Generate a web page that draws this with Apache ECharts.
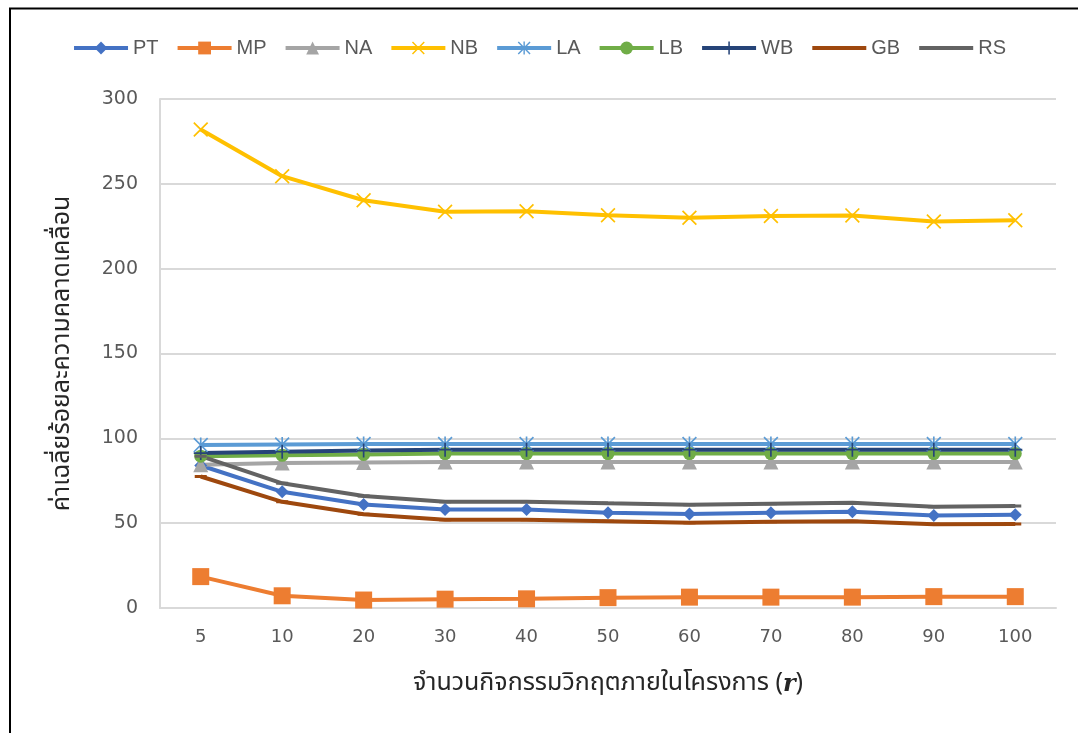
<!DOCTYPE html>
<html>
<head>
<meta charset="utf-8">
<script src="https://cdn.jsdelivr.net/npm/echarts@6/dist/echarts.min.js"></script>
<style>
  html, body { margin: 0; padding: 0; background: #ffffff; }
  #chart { width: 1078px; height: 733px; }
</style>
</head>
<body>
<div id="chart"></div>
<script>
// Number of critical activities in the project (r)
const categories = ['5', '10', '20', '30', '40', '50', '60', '70', '80', '90', '100'];

// Mean percentage error for each method
const PT = [84, 68.5, 61, 58, 58, 56.2, 55.4, 56.2, 56.8, 54.5, 55];
const MP = [18.5, 7.2, 4.7, 5.2, 5.4, 6.1, 6.4, 6.4, 6.4, 6.7, 6.7];
const NA = [84.5, 85.5, 85.8, 86, 86, 86, 86, 86, 86, 86, 86];
const NB = [282, 254.5, 240.3, 233.5, 233.8, 231.5, 230, 231, 231.4, 227.8, 228.5];
const LA = [96, 96.4, 96.6, 96.6, 96.6, 96.6, 96.6, 96.6, 96.6, 96.6, 96.6];
const LB = [89.5, 90, 90.5, 91, 91, 91, 91, 91, 91, 91, 91];
const WB = [91.3, 92.1, 92.8, 93.3, 93.3, 93.3, 93.3, 93.3, 93.3, 93.3, 93.3];
const GB = [77.5, 62.6, 55.3, 52, 52, 51.2, 50.3, 50.9, 51.2, 49.3, 49.5];
const RS = [89.5, 73.5, 66, 62.6, 62.6, 61.7, 60.9, 61.5, 62, 59.7, 60.1];

const yTicks = { min: 0, max: 300, interval: 50 };

// Marker shapes (20x20 boxes)
const X_MARK = 'path://M0,1.6L1.6,0L20,18.4L18.4,20Z M18.4,0L20,1.6L1.6,20L0,18.4Z';
const STAR_MARK = 'path://M0,1.6L1.6,0L20,18.4L18.4,20Z M18.4,0L20,1.6L1.6,20L0,18.4Z M8.9,0L11.1,0L11.1,20L8.9,20Z';
const PLUS_MARK = 'path://M8.8,0L11.2,0L11.2,8.8L20,8.8L20,11.2L11.2,11.2L11.2,20L8.8,20L8.8,11.2L0,11.2L0,8.8L8.8,8.8Z';
// short horizontal bar; the tiny corner segments keep the box square
const DASH_MARK = 'path://M0,0L0.01,0L0.01,0.01Z M20,20L19.99,20L19.99,19.99Z M0,7.5L20,7.5L20,12.5L0,12.5Z';

const seriesDefs = [
  { name: 'PT', data: PT, color: '#4472C4', symbol: 'diamond', size: 13 },
  { name: 'MP', data: MP, color: '#ED7D31', symbol: 'rect', size: 17 },
  { name: 'NA', data: NA, color: '#A5A5A5', symbol: 'triangle', size: 15 },
  { name: 'NB', data: NB, color: '#FFC000', symbol: X_MARK, size: 15 },
  { name: 'LA', data: LA, color: '#5B9BD5', symbol: STAR_MARK, size: 15 },
  { name: 'LB', data: LB, color: '#70AD47', symbol: 'circle', size: 13 },
  { name: 'WB', data: WB, color: '#264478', symbol: PLUS_MARK, size: 14 },
  { name: 'GB', data: GB, color: '#9E480E', symbol: DASH_MARK, size: 12 },
  { name: 'RS', data: RS, color: '#636363', symbol: DASH_MARK, size: 12 }
];

const textColor = '#595959';
const gridColor = '#D9D9D9';
const thaiFont = 'Noto Sans Thai, Tahoma, sans-serif';

const chart = echarts.init(document.getElementById('chart'), null, { renderer: 'canvas' });

chart.setOption({
  animation: false,
  backgroundColor: '#ffffff',
  graphic: [{
    type: 'rect',
    shape: { x: 10, y: 8.5, width: 1200, height: 900 },
    style: { fill: 'none', stroke: '#000000', lineWidth: 2 },
    silent: true
  }],
  legend: {
    top: 33,
    left: 'center',
    itemWidth: 54,
    itemHeight: 16,
    itemGap: 17,
    lineStyle: { width: 4 },
    textStyle: { color: textColor, fontSize: 20, fontFamily: 'Liberation Sans Narrow, Liberation Sans, sans-serif' },
    data: seriesDefs.map(s => s.name)
  },
  grid: { left: 160, right: 22, top: 99, bottom: 125, containLabel: false },
  xAxis: {
    type: 'category',
    data: categories,
    boundaryGap: true,
    name: 'จำนวนกิจกรรมวิกฤตภายในโครงการ ({r|r})',
    nameLocation: 'middle',
    nameGap: 64,
    nameTextStyle: {
      color: '#262626', fontSize: 25, fontFamily: thaiFont,
      rich: { r: { fontFamily: 'DejaVu Serif, serif', fontStyle: 'italic', fontWeight: 'bold', fontSize: 24, color: '#262626' } }
    },
    axisLine: { show: true, lineStyle: { color: gridColor, width: 2 } },
    axisTick: { show: false },
    axisLabel: { color: textColor, fontSize: 18, fontFamily: 'DejaVu Sans, sans-serif', margin: 20 }
  },
  yAxis: {
    type: 'value',
    min: yTicks.min,
    max: yTicks.max,
    interval: yTicks.interval,
    name: 'ค่าเฉลี่ยร้อยละความคลาดเคลื่อน',
    nameLocation: 'middle',
    nameGap: 84,
    nameTextStyle: { color: '#262626', fontSize: 25, fontFamily: thaiFont },
    axisLine: { show: true, lineStyle: { color: gridColor, width: 2 } },
    axisTick: { show: false },
    splitLine: { show: true, lineStyle: { color: gridColor, width: 2 } },
    axisLabel: { color: textColor, fontSize: 19, fontFamily: 'DejaVu Sans, sans-serif', margin: 22 }
  },
  series: seriesDefs.map(s => ({
    name: s.name,
    type: 'line',
    data: s.data,
    symbol: s.symbol,
    symbolSize: s.size,
    showSymbol: true,
    lineStyle: { color: s.color, width: 4 },
    itemStyle: { color: s.color, borderWidth: 0 },
    emphasis: { disabled: true }
  }))
});
</script>
</body>
</html>
